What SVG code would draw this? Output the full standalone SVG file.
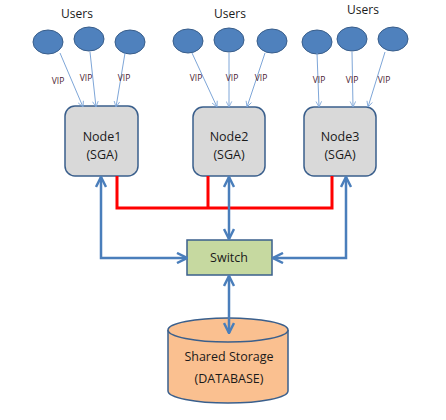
<svg xmlns="http://www.w3.org/2000/svg" width="446" height="420" viewBox="0 0 446 420">
<defs>
<style>
text{font-family:"Open Sans","Liberation Sans",sans-serif;fill:#1a1a1a;text-anchor:middle}
.u{font-size:12px}
.v{font-size:8.5px;fill:#4a2030}
.n{font-size:12.5px}
.user{fill:#4f81bd;stroke:#385d8a;stroke-width:1}
.box{fill:#d9d9d9;stroke:#3a5f8c;stroke-width:1.5}
.thin{stroke:#7ea6d8;stroke-width:1;fill:none;marker-end:url(#ah)}
.blue{stroke:#4a7ebb;stroke-width:2.5;fill:none}
.red{stroke:#ff0000;stroke-width:3;fill:none}
</style>
<marker id="ah" viewBox="0 0 10 10" refX="9" refY="5" markerWidth="7" markerHeight="7" orient="auto"><path d="M1,1 L9,5 L1,9" fill="none" stroke="#7ea6d8" stroke-width="1.2"/></marker>
<marker id="bh" viewBox="0 0 10 10" refX="9" refY="5" markerWidth="5" markerHeight="5" orient="auto-start-reverse"><path d="M1,1 L9,5 L1,9" fill="none" stroke="#4a7ebb" stroke-width="2"/></marker>
</defs>
<rect width="446" height="420" fill="#fff"/>
<g id="users1">
<text class="u" x="77" y="18">Users</text>
<ellipse class="user" cx="48" cy="42" rx="15" ry="12"/>
<ellipse class="user" cx="89" cy="39" rx="15" ry="12"/>
<ellipse class="user" cx="130" cy="42" rx="15" ry="12"/>
</g>
<g id="users2">
<text class="u" x="230" y="18">Users</text>
<ellipse class="user" cx="188" cy="41" rx="15" ry="12"/>
<ellipse class="user" cx="229" cy="40" rx="15" ry="12"/>
<ellipse class="user" cx="272" cy="41" rx="15" ry="12"/>
</g>
<g id="users3">
<text class="u" x="363" y="14">Users</text>
<ellipse class="user" cx="317" cy="42" rx="15" ry="12"/>
<ellipse class="user" cx="352" cy="39" rx="15" ry="12"/>
<ellipse class="user" cx="393" cy="39" rx="15" ry="12"/>
</g>
<g id="node1">
<rect class="box" x="65" y="106" width="73" height="70" rx="10"/>
<text class="n" x="102" y="141">Node1</text>
<text class="n" x="102" y="159">(SGA)</text>
</g>
<g id="node2">
<rect class="box" x="193" y="107" width="72" height="69" rx="10"/>
<text class="n" x="229" y="141">Node2</text>
<text class="n" x="229" y="159">(SGA)</text>
</g>
<g id="node3">
<rect class="box" x="304" y="107" width="72" height="69" rx="10"/>
<text class="n" x="340" y="141">Node3</text>
<text class="n" x="340" y="159">(SGA)</text>
</g>
<g id="switch">
<rect x="187" y="240" width="85" height="35" fill="#c6d9a0" stroke="#3a5f8c" stroke-width="1.5"/>
<text class="n" x="229" y="262">Switch</text>
</g>
<g id="storage">
<path d="M168,330 L168,391 A60,12 0 0 0 288,391 L288,330" fill="#fac090" stroke="#3a5f8c" stroke-width="1.5"/>
<ellipse cx="228" cy="330" rx="60" ry="12" fill="#fac090" stroke="#3a5f8c" stroke-width="1.5"/>
<text class="n" x="229" y="361">Shared Storage</text>
<text class="n" x="229" y="383">(DATABASE)</text>
</g>
<g id="connectors">
<path class="thin" d="M60,53 L83,107"/>
<path class="thin" d="M90,52 L96,107"/>
<path class="thin" d="M125,53 L116,107"/>
<path class="thin" d="M192,53 L217,107"/>
<path class="thin" d="M229,53 L229,107"/>
<path class="thin" d="M265,53 L247,107"/>
<path class="thin" d="M317,53 L319,107"/>
<path class="thin" d="M352,52 L353,107"/>
<path class="thin" d="M385,52 L368,107"/>
<text class="v" x="58" y="84">VIP</text>
<text class="v" x="86" y="81">VIP</text>
<text class="v" x="124" y="81">VIP</text>
<text class="v" x="196" y="81">VIP</text>
<text class="v" x="232" y="81">VIP</text>
<text class="v" x="261" y="81">VIP</text>
<text class="v" x="319" y="83">VIP</text>
<text class="v" x="352" y="83">VIP</text>
<text class="v" x="384" y="83">VIP</text>
<path class="red" d="M117,176 L117,208 L332,208 L332,176 M208,176 L208,208"/>
<path class="blue" d="M187,258 L101,258 L101,177" marker-start="url(#bh)" marker-end="url(#bh)"/>
<path class="blue" d="M273,258 L346,258 L346,177" marker-start="url(#bh)" marker-end="url(#bh)"/>
<path class="blue" d="M229,177 L229,239" marker-start="url(#bh)" marker-end="url(#bh)"/>
<path class="blue" d="M229,276 L229,333" marker-start="url(#bh)" marker-end="url(#bh)"/>
</g>
</svg>
